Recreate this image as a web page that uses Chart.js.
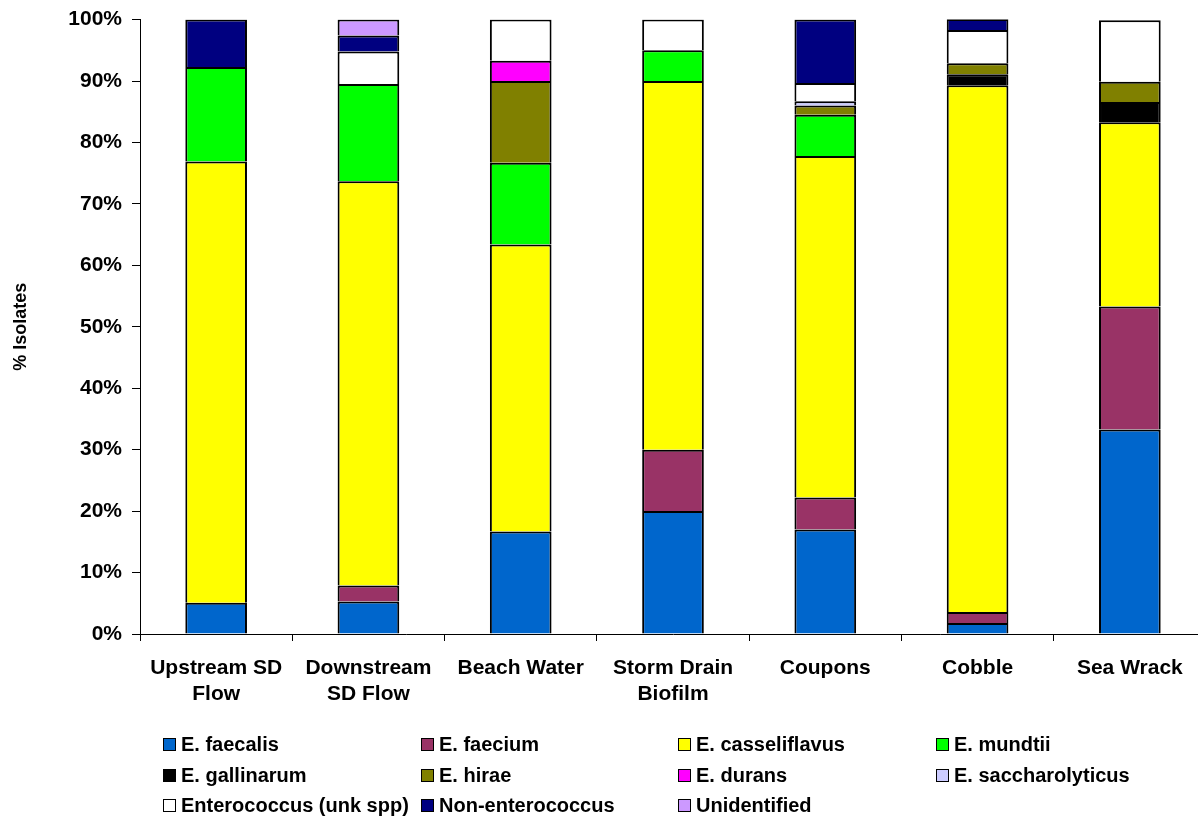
<!DOCTYPE html>
<html>
<head>
<meta charset="utf-8">
<script src="https://cdn.jsdelivr.net/npm/chart.js@4/dist/chart.umd.min.js"></script>
<style>
  html, body { margin: 0; padding: 0; background: #fff; overflow: hidden; }
  body { width: 1198px; height: 817px; position: relative; }
  #wrap { position: absolute; left: 0; top: -3px; width: 1206px; height: 723px; }
  #legend { position: absolute; left: 0; top: 0; width: 1198px; height: 817px; pointer-events: none; }
  .lg-item {
    position: absolute; display: flex; align-items: center; white-space: nowrap;
    font: bold 20px "Liberation Sans", Arial, sans-serif; color: #000;
  }
  .lg-box { width: 11px; height: 11px; border: 1.5px solid #000; margin-right: 5px; }
</style>
</head>
<body>
<div id="wrap"><canvas id="chart"></canvas></div>
<div id="legend"></div>
<script>
// sample sites (x axis)
const sites = [
  ['Upstream SD', 'Flow'],
  ['Downstream', 'SD Flow'],
  'Beach Water',
  ['Storm Drain', 'Biofilm'],
  'Coupons',
  'Cobble',
  'Sea Wrack'
];

// % isolates per species, one value per site
const faecalis        = [5.1, 5.3, 16.7, 20.0, 17.0, 1.8, 33.3];
const faecium         = [0, 2.6, 0, 10.0, 5.2, 1.8, 20.0];
const casseliflavus   = [71.8, 65.8, 46.7, 60.0, 55.6, 85.7, 30.0];
const mundtii         = [15.4, 15.8, 13.3, 5.0, 6.7, 0, 0];
const gallinarum      = [0, 0, 0, 0, 0, 1.8, 3.3];
const hirae           = [0, 0, 13.3, 0, 1.5, 1.8, 3.3];
const durans          = [0, 0, 3.3, 0, 0, 0, 0];
const saccharolyticus = [0, 0, 0, 0, 0.7, 0, 0];
const unkSpp          = [0, 5.3, 6.7, 5.0, 3.0, 5.4, 10.0];
const nonEntero       = [7.7, 2.6, 0, 0, 10.3, 1.8, 0];
const unidentified    = [0, 2.6, 0, 0, 0, 0, 0];

const yTicks = [0, 10, 20, 30, 40, 50, 60, 70, 80, 90, 100];

const series = [
  { label: 'E. faecalis', data: faecalis, color: '#0066CC' },
  { label: 'E. faecium', data: faecium, color: '#993366' },
  { label: 'E. casseliflavus', data: casseliflavus, color: '#FFFF00' },
  { label: 'E. mundtii', data: mundtii, color: '#00FF00' },
  { label: 'E. gallinarum', data: gallinarum, color: '#000000' },
  { label: 'E. hirae', data: hirae, color: '#808000' },
  { label: 'E. durans', data: durans, color: '#FF00FF' },
  { label: 'E. saccharolyticus', data: saccharolyticus, color: '#CCCCFF' },
  { label: 'Enterococcus (unk spp)', data: unkSpp, color: '#FFFFFF' },
  { label: 'Non-enterococcus', data: nonEntero, color: '#000080' },
  { label: 'Unidentified', data: unidentified, color: '#CC99FF' }
];

const FONT = '"Liberation Sans", Arial, sans-serif';

const chart = new Chart(document.getElementById('chart'), {
  type: 'bar',
  data: {
    labels: sites,
    // empty segments left out so they don't paint over neighbouring borders;
    // bottom edge skipped so each separator is one segment's top border
    datasets: series.map((s) => ({
      label: s.label,
      data: s.data.map((v) => (v === 0 ? null : v)),
      backgroundColor: s.color,
      borderColor: '#000',
      borderWidth: 2,
      borderSkipped: 'start',
      barPercentage: 0.405,
      categoryPercentage: 1
    }))
  },
  options: {
    responsive: true,
    maintainAspectRatio: false,
    animation: false,
    layout: { padding: { top: 16, right: 0, bottom: 0, left: 0 } },
    plugins: {
      legend: { display: false },
      tooltip: { enabled: false }
    },
    scales: {
      x: {
        stacked: true,
        afterFit: (scale) => { scale.height = 86; },
        grid: {
          offset: true,
          drawOnChartArea: false,
          drawTicks: true,
          tickLength: 7,
          color: '#000'
        },
        border: { display: true, color: '#000', width: 1 },
        ticks: {
          color: '#000',
          padding: 14,
          maxRotation: 0,
          autoSkip: false,
          font: { family: FONT, size: 21, weight: 'bold', lineHeight: 1.25 }
        }
      },
      y: {
        stacked: true,
        min: 0,
        max: 100,
        afterFit: (scale) => { scale.width = 140; },
        afterBuildTicks: (scale) => { scale.ticks = yTicks.map((v) => ({ value: v })); },
        grid: {
          drawOnChartArea: false,
          drawTicks: true,
          tickLength: 8,
          color: '#000'
        },
        border: { display: true, color: '#000', width: 1 },
        ticks: {
          color: '#000',
          padding: 10,
          callback: (v) => v + '%',
          font: { family: FONT, size: 21, weight: 'bold' }
        },
        title: {
          display: true,
          text: '% Isolates',
          color: '#000',
          padding: { top: 10, bottom: 0 },
          font: { family: FONT, size: 18, weight: 'bold' }
        }
      }
    }
  }
});

// legend laid out in a 4-column grid like the original
const colX = [163, 421, 678, 936];
const rowY = [744, 775, 805];
const legendEl = document.getElementById('legend');
series.forEach((s, i) => {
  const item = document.createElement('div');
  item.className = 'lg-item';
  item.style.left = colX[i % 4] + 'px';
  item.style.top = (rowY[Math.floor(i / 4)] - 11) + 'px';
  item.style.height = '22px';
  item.innerHTML = '<span class="lg-box" style="background:' + s.color + '"></span>' + s.label;
  legendEl.appendChild(item);
});
</script>
</body>
</html>
